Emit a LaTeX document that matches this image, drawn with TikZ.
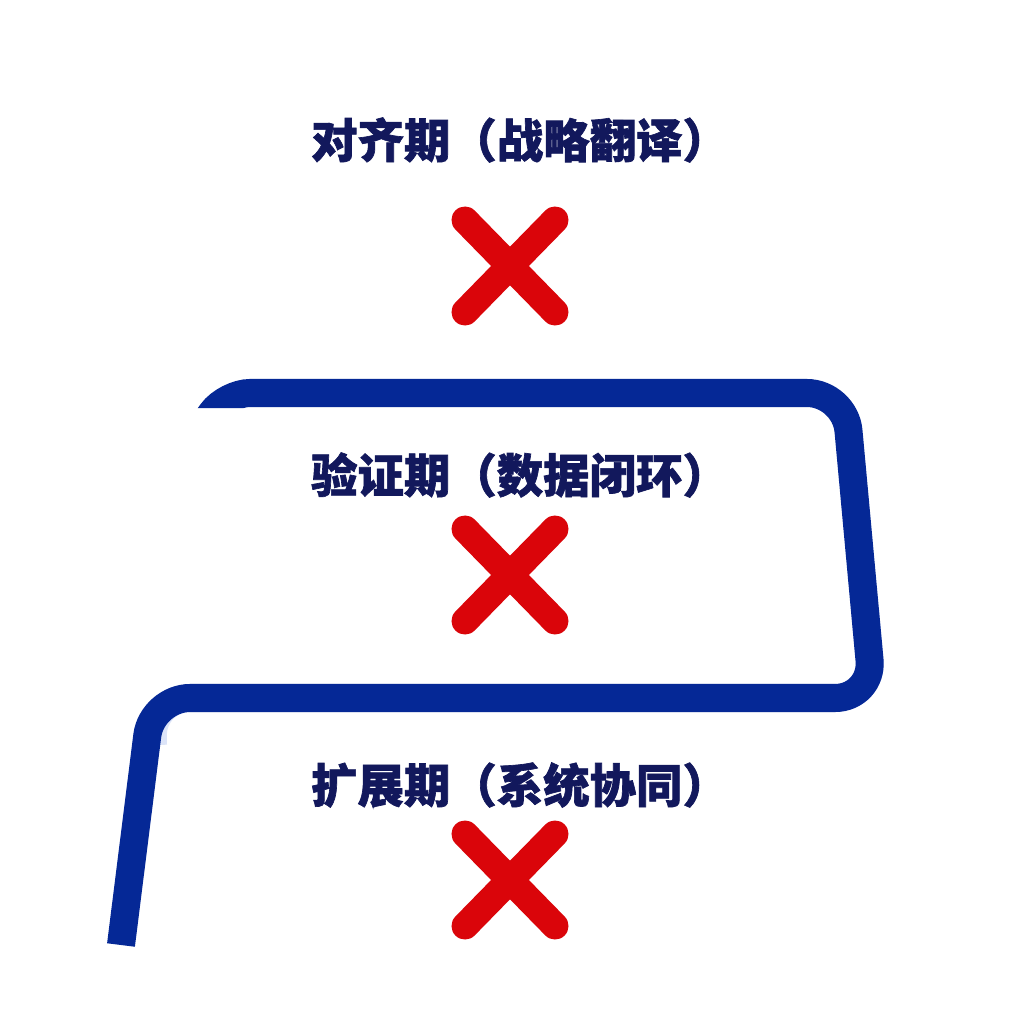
\documentclass[tikz,border=0pt]{standalone}
\usepackage{fontspec}
\newfontfamily\cjk{Noto Sans CJK SC}[BoldFeatures={FakeBold=1.4}]
\definecolor{navy}{RGB}{18,24,92}
\definecolor{trackblue}{RGB}{5,40,150}
\definecolor{shadowblue}{RGB}{220,228,248}
\definecolor{crossred}{RGB}{218,5,10}
\begin{document}
\begin{tikzpicture}[x=0.01cm,y=-0.01cm,
  phase/.style={font=\cjk\bfseries\fontsize{13.2}{15}\selectfont, text=navy, inner sep=0pt},
  cross/.style={draw=crossred, line width=0.27cm, line cap=round},
  track/.style={line width=0.28cm, rounded corners=0.38cm}
  ]
  \useasboundingbox[fill=white] (0,0) rectangle (1024,1024);
  % phases
  \node[phase] (align) at (520,140) {对齐期（战略翻译）};
  \node[phase] (verify) at (520,475) {验证期（数据闭环）};
  \node[phase] (expand) at (520,785) {扩展期（系统协同）};
  % crosses
  \foreach \n/\y in {c1/266, c2/575, c3/880} {
    \coordinate (\n) at (510,\y);
    \draw[cross] ([shift={(-45,-46)}]\n) -- ([shift={(45,46)}]\n);
    \draw[cross] ([shift={(45,-46)}]\n) -- ([shift={(-45,46)}]\n);
  }
  % track
  \coordinate (t0) at (192,440);
  \coordinate (t1) at (226,393);
  \coordinate (t2) at (845,393);
  \coordinate (t3) at (873,698);
  \coordinate (t4) at (152,698);
  \coordinate (t5) at (121,945);
  \draw[track, draw=shadowblue, shift={(5,10)}] (860,600) -- (t3) -- (t4) -- (148,735);
  \begin{scope}
    \clip (0,0) -- (1024,0) -- (1024,1024) -- (0,1024) -- (0,520) -- (300,520)
      -- (300,408) -- (0,408) -- cycle;
    \draw[track, draw=trackblue, rounded corners=0.24cm] (t0) -- (t1)
      [rounded corners=0.38cm] -- (t2) -- (t3) -- (t4) -- (t5);
  \end{scope}
\end{tikzpicture}
\end{document}
